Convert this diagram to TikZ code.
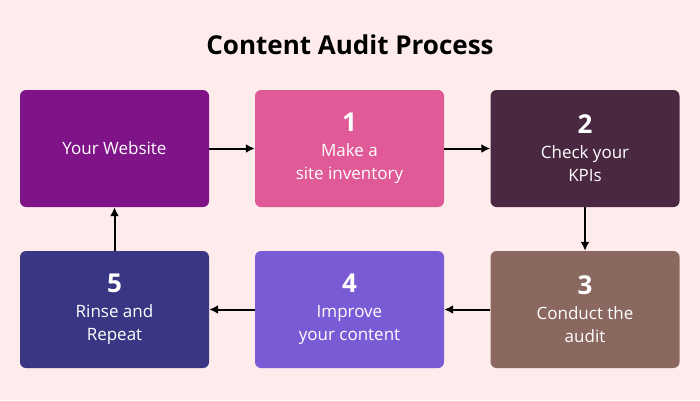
\documentclass[tikz,border=0pt]{standalone}
\usepackage{fontspec}
\setmainfont{Open Sans}
\usetikzlibrary{arrows.meta}
\definecolor{bgpink}{HTML}{FDECEB}
\definecolor{cweb}{HTML}{7E1488}
\definecolor{cinv}{HTML}{E05A97}
\definecolor{ckpi}{HTML}{4A2841}
\definecolor{caud}{HTML}{8A6860}
\definecolor{cimp}{HTML}{7A5AD5}
\definecolor{crin}{HTML}{393683}
\tikzset{
  stage/.style={rounded corners=6pt,minimum width=189pt,minimum height=117pt,
    text=white,align=center,font=\fontsize{17}{23}\selectfont},
  flow/.style={-{Latex[length=9pt,width=9pt]},line width=2pt}
}
\newcommand{\stagenum}[1]{{\fontsize{26}{26}\selectfont\bfseries #1}\\[2pt]}
\begin{document}
\begin{tikzpicture}[x=1pt,y=-1pt]
  \fill[bgpink] (0,0) rectangle (700,400);
  \node[font=\fontsize{26}{30}\selectfont\bfseries] (title) at (350,45) {Content Audit Process};

  \node[stage,fill=cweb] (web) at (114.5,148.5) {Your Website};
  \node[stage,fill=cinv] (inv) at (349.5,148.5) {\stagenum{1}Make a\\site inventory};
  \node[stage,fill=ckpi] (kpi) at (585,148.5) {\stagenum{2}Check your\\KPIs};
  \node[stage,fill=caud] (aud) at (585,309.5) {\stagenum{3}Conduct the\\audit};
  \node[stage,fill=cimp] (imp) at (349.5,309.5) {\stagenum{4}Improve\\your content};
  \node[stage,fill=crin] (rin) at (114.5,309.5) {\stagenum{5}Rinse and\\Repeat};

  \draw[flow] (web) -- (inv);
  \draw[flow] (inv) -- (kpi);
  \draw[flow] (kpi) -- (aud);
  \draw[flow] (aud) -- (imp);
  \draw[flow] (imp) -- (rin);
  \draw[flow] (rin) -- (web);
\end{tikzpicture}
\end{document}
